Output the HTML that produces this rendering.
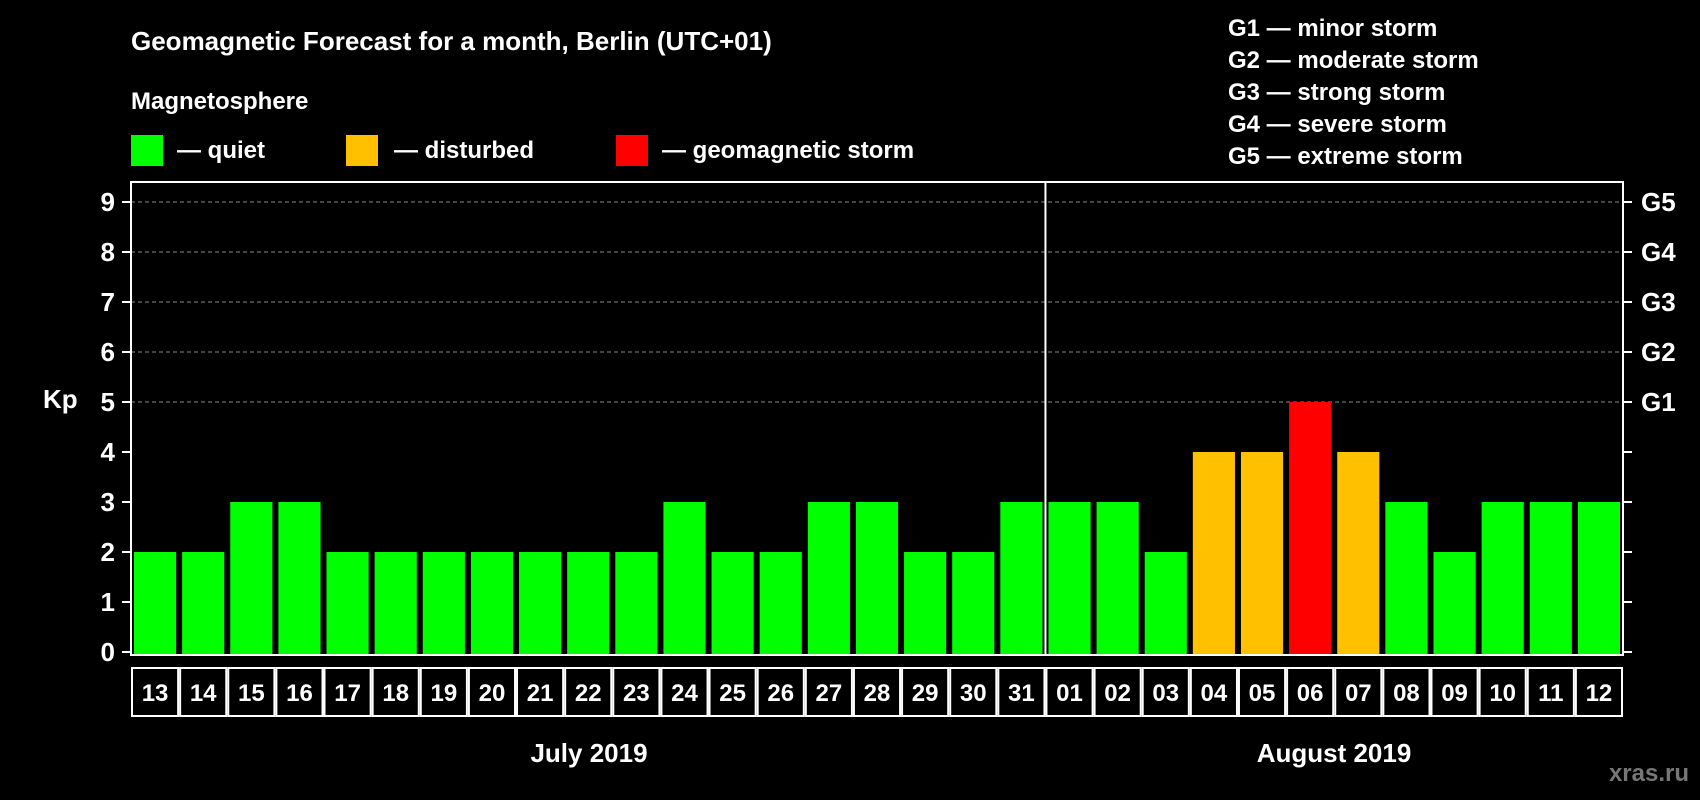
<!DOCTYPE html>
<html><head><meta charset="utf-8"><style>
html,body{margin:0;padding:0;background:#000;}
svg{display:block;font-family:"Liberation Sans",Arial,sans-serif;font-weight:bold;}
</style></head><body>
<svg id="chart" width="1700" height="800" viewBox="0 0 1700 800">
<rect width="1700" height="800" fill="#000"/>
<text x="131" y="50" fill="#fff" font-size="26">Geomagnetic Forecast for a month, Berlin (UTC+01)</text>
<text x="131" y="109" fill="#fff" font-size="24">Magnetosphere</text>
<g><rect x="131" y="135" width="32" height="31" fill="#00ff00"/><text x="177" y="158" fill="#fff" font-size="24">— quiet</text></g>
<g><rect x="346" y="135" width="32" height="31" fill="#ffc000"/><text x="394" y="158" fill="#fff" font-size="24">— disturbed</text></g>
<g><rect x="616" y="135" width="32" height="31" fill="#ff0000"/><text x="662" y="158" fill="#fff" font-size="24">— geomagnetic storm</text></g>
<g fill="#fff" font-size="24">
<text x="1228" y="36">G1 — minor storm</text>
<text x="1228" y="68">G2 — moderate storm</text>
<text x="1228" y="100">G3 — strong storm</text>
<text x="1228" y="132">G4 — severe storm</text>
<text x="1228" y="164">G5 — extreme storm</text>
</g>
<text x="43" y="408" fill="#fff" font-size="26">Kp</text>
<g id="grid"></g><g id="bars"></g><g id="axes"></g>
<text x="589" y="762" fill="#fff" font-size="26" text-anchor="middle">July 2019</text>
<text x="1334" y="762" fill="#fff" font-size="26" text-anchor="middle">August 2019</text>
<text x="1689" y="781" fill="#777" font-size="24" text-anchor="end">xras.ru</text>
</svg>
<script>
const days=["13","14","15","16","17","18","19","20","21","22","23","24","25","26","27","28","29","30","31","01","02","03","04","05","06","07","08","09","10","11","12"];
const kp=[2,2,3,3,2,2,2,2,2,2,2,3,2,2,3,3,2,2,3,3,3,2,4,4,5,4,3,2,3,3,3];
const yTicks=[0,1,2,3,4,5,6,7,8,9];
const gLabels=["","","","","","G1","G2","G3","G4","G5"];
const NS="http://www.w3.org/2000/svg";
const L=131,R=1623,T=182,B=655,Y0=652,UNIT=50;
const pitch=(R-L)/days.length;
const y=v=>Y0-v*UNIT;
const x=i=>L+i*pitch;
function mk(tag,attrs,parent){const e=document.createElementNS(NS,tag);for(const k in attrs)e.setAttribute(k,attrs[k]);parent.appendChild(e);return e;}
const grid=document.getElementById('grid'),bars=document.getElementById('bars'),axes=document.getElementById('axes');
yTicks.forEach(v=>{
 if(v>=5){const g=mk('line',{x1:L,x2:R,y1:y(v),y2:y(v),stroke:'#888','stroke-dasharray':'4,3','stroke-width':1},grid);
 
 }
 const t1=mk('line',{x1:L-9,x2:L,y1:y(v),y2:y(v),stroke:'#fff','stroke-width':2},axes);
 
 
 const t2=mk('line',{x1:R,x2:R+9,y1:y(v),y2:y(v),stroke:'#fff','stroke-width':2},axes);
 
 
 const lb=mk('text',{x:L-16,y:y(v)+9,fill:'#fff','font-size':26,'text-anchor':'end'},axes);lb.textContent=v;
 
 
 if(gLabels[v]){const gl=mk('text',{x:R+18,y:y(v)+9,fill:'#fff','font-size':26},axes);gl.textContent=gLabels[v];
 
 }
});
kp.forEach((v,i)=>{
 const c=v>=5?'#ff0000':(v>=4?'#ffc000':'#00ff00');
 const r=mk('rect',{x:x(i)+3,y:y(v),width:pitch-6,height:B-y(v),fill:c},bars);
 
 
 const bx=mk('rect',{x:x(i)+1,y:668,width:pitch-2,height:48,fill:'none',stroke:'#fff','stroke-width':2},axes);
 
 
 const t=mk('text',{x:x(i)+pitch/2,y:701,fill:'#fff','font-size':24,'text-anchor':'middle'},axes);t.textContent=days[i];
 
 
});
const fr=mk('rect',{x:L,y:T,width:R-L,height:B-T,fill:'none',stroke:'#fff','stroke-width':2},axes);


const div=mk('line',{x1:x(19),x2:x(19),y1:T,y2:B,stroke:'#fff','stroke-width':2},axes);


</script>
</body></html>
